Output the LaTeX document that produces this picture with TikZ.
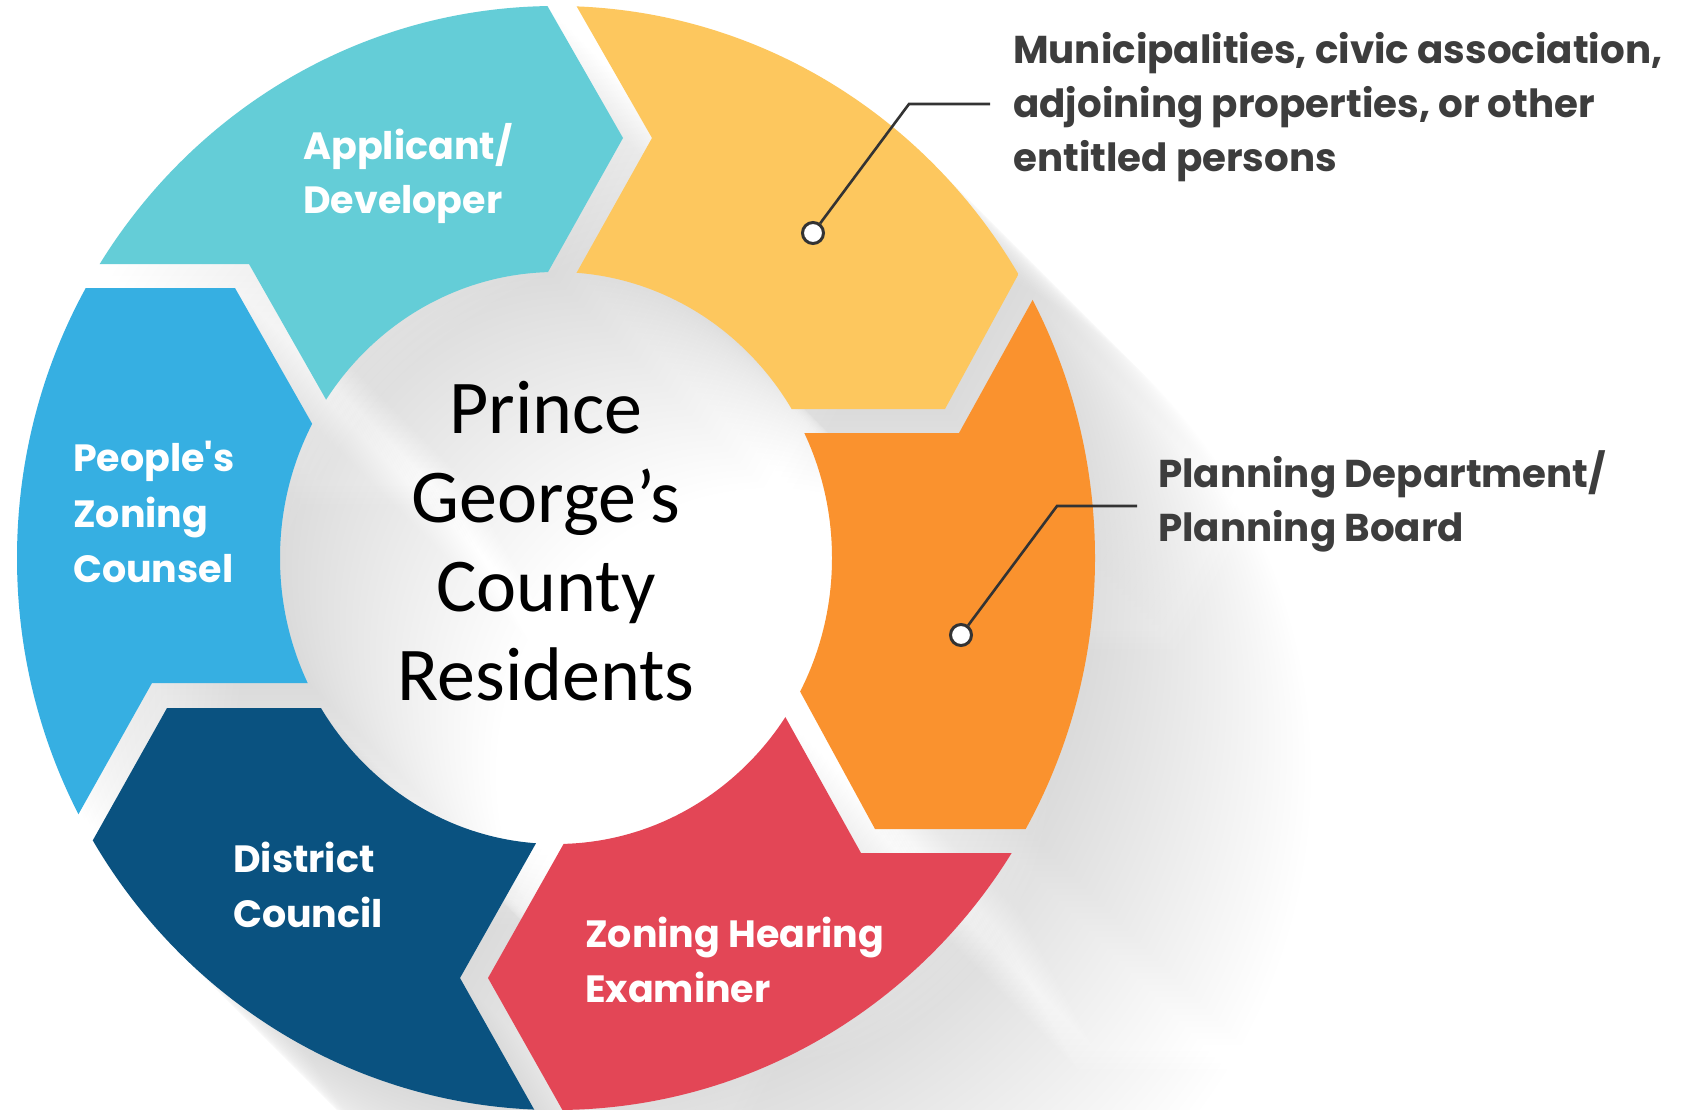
\documentclass[tikz,border=0pt]{standalone}
\usepackage{fontspec}
\usetikzlibrary{calc}
\newfontfamily\labfont{Poppins}[Ligatures=TeXOff]
\newfontfamily\ctrfont{Carlito}
\definecolor{cyanseg}{HTML}{64CDD7}
\definecolor{yellowseg}{HTML}{FDC75E}
\definecolor{orangeseg}{HTML}{FA922E}
\definecolor{redseg}{HTML}{E34656}
\definecolor{navyseg}{HTML}{0A5280}
\definecolor{blueseg}{HTML}{36AFE2}
\definecolor{labgray}{HTML}{3D3D3D}
\definecolor{linegray}{HTML}{333333}

\newcommand\ringpts{%
 \coordinate (ctr) at (556,558);
 \coordinate (ALi) at (548,272); \coordinate (ALt) at (623,138); \coordinate (ALo) at (548,7);
 \coordinate (ANi) at (577,272); \coordinate (ANt) at (652,138); \coordinate (ANo) at (577,7);
 \coordinate (BLi) at (793,409); \coordinate (BLt) at (945,409); \coordinate (BLo) at (1018,275);
 \coordinate (BNi) at (808,433); \coordinate (BNt) at (959,433); \coordinate (BNo) at (1032,301);
 \coordinate (CLi) at (802,695); \coordinate (CLt) at (875,829); \coordinate (CLo) at (1027,829);
 \coordinate (CNi) at (787,720); \coordinate (CNt) at (861,853); \coordinate (CNo) at (1012,853);
 \coordinate (DLi) at (563,845); \coordinate (DLt) at (488,978); \coordinate (DLo) at (563,1111);
 \coordinate (DNi) at (535,845); \coordinate (DNt) at (460,978); \coordinate (DNo) at (535,1111);
 \coordinate (ELi) at (318,708); \coordinate (ELt) at (167,708); \coordinate (ELo) at (93,840);
 \coordinate (ENi) at (303,683); \coordinate (ENt) at (152,683); \coordinate (ENo) at (78,815);
 \coordinate (FLi) at (310,420); \coordinate (FLt) at (235,288); \coordinate (FLo) at (85,288);
 \coordinate (FNi) at (324,396); \coordinate (FNt) at (249,264); \coordinate (FNo) at (99,264);
 \coordinate (farY) at (1006,-221); \coordinate (farO) at (1456,558);
 \coordinate (farR) at (1006,1337); \coordinate (farN) at (106,1337);
 \coordinate (farB) at (-344,558); \coordinate (farC) at (106,-221);
}
% #1 notch boundary, #2 leading boundary, #3 far point
\newcommand\segclip[3]{\clip ($(#1No)!-0.6!(#1Nt)$) -- (#1No) -- (#1Nt) -- (#1Ni) -- ($(#1Ni)!-0.6!(#1Nt)$) -- (ctr) -- ($(#2Li)!-0.6!(#2Lt)$) -- (#2Li) -- (#2Lt) -- (#2Lo) -- ($(#2Lo)!-0.6!(#2Lt)$) -- (#3) -- cycle;}
\newcommand\ringfill{(ctr) ellipse [x radius=539, y radius=552] (ctr) ellipse [x radius=276, y radius=286]}
\newcommand\segment[4]{\begin{scope}\segclip{#1}{#2}{#3}\fill[#4, even odd rule] \ringfill;\end{scope}}
\newcommand\allsegments[6]{%
 \segment{A}{B}{farY}{#1}\segment{B}{C}{farO}{#2}\segment{C}{D}{farR}{#3}%
 \segment{D}{E}{farN}{#4}\segment{E}{F}{farB}{#5}\segment{F}{A}{farC}{#6}}

\tikzset{
 shadowfill/.style={black, opacity=0.0045},
 labw/.style={font=\labfont\bfseries\fontsize{38}{46}\selectfont, text=white, inner sep=0pt, anchor=base west},
 labd/.style={font=\labfont\bfseries\fontsize{38.8}{46}\selectfont, text=labgray, inner sep=0pt, anchor=base west},
 ctrtxt/.style={font=\ctrfont\fontsize{76}{89}\selectfont, text=black, inner sep=0pt, anchor=base},
 dotn/.style={circle, draw=linegray, fill=white, line width=3pt, minimum size=21pt, inner sep=0pt},
 conn/.style={draw=linegray, line width=2.6pt}
}

\begin{document}
\begin{tikzpicture}[x=1pt, y=-1pt]
\useasboundingbox (0,0) rectangle (1684,1110);
\clip (0,0) rectangle (1684,1110);
\fill[white] (0,0) rectangle (1684,1110);

% long shadow
\foreach \k in {1,...,36}{
 \begin{scope}[shift={({\k*6},{\k*6})}]
  \ringpts
  \allsegments{shadowfill}{shadowfill}{shadowfill}{shadowfill}{shadowfill}{shadowfill}
 \end{scope}
}

% segments
\ringpts
\allsegments{yellowseg}{orangeseg}{redseg}{navyseg}{blueseg}{cyanseg}

% connectors
\node[dotn] (dot1) at (813,233) {};
\coordinate (k1) at (909,104);
\coordinate (e1) at (990,104);
\draw[conn] (dot1) -- (k1) -- (e1);
\node[dotn] (dot2) at (961,635) {};
\coordinate (k2) at (1057,506);
\coordinate (e2) at (1137,506);
\draw[conn] (dot2) -- (k2) -- (e2);

% labels in segments
\node[labw] (app1) at (303,160) {Applicant/};
\node[labw] (app2) at (303,214) {Developer};
\node[labw] (pzc1) at (73,471) {People's};
\node[labw] (pzc2) at (73,527) {Zoning};
\node[labw] (pzc3) at (73,582) {Counsel};
\node[labw] (dc1) at (233,872) {District};
\node[labw] (dc2) at (233,927) {Council};
\node[labw] (zhe1) at (585,947) {Zoning Hearing};
\node[labw] (zhe2) at (585,1002) {Examiner};

% outside labels
\node[labd] (mun1) at (1013,64) {Municipalities, civic association,};
\node[labd] (mun2) at (1013,118) {adjoining properties, or other};
\node[labd] (mun3) at (1013,172) {entitled persons};
\node[labd] (pln1) at (1158,487) {Planning Department/};
\node[labd] (pln2) at (1158,541) {Planning Board};

% center
\node[ctrtxt] (c1) at (546,433) {Prince};
\node[ctrtxt] (c2) at (546,522) {George’s};
\node[ctrtxt] (c3) at (546,611) {County};
\node[ctrtxt] (c4) at (546,700) {Residents};
\end{tikzpicture}
\end{document}
